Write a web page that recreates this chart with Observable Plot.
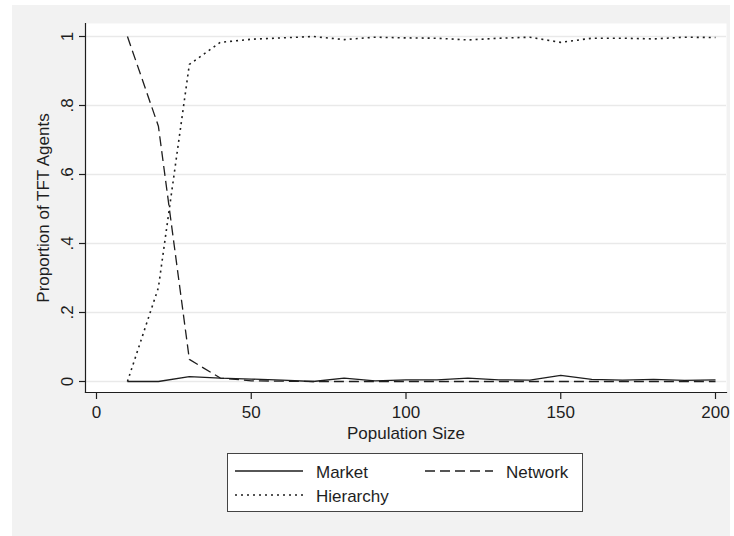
<!DOCTYPE html>
<html>
<head>
<meta charset="utf-8">
<script src="https://cdn.jsdelivr.net/npm/d3@7"></script>
<script src="https://cdn.jsdelivr.net/npm/@observablehq/plot@0.6"></script>
<style>
  html, body { margin: 0; padding: 0; background: #ffffff; }
  #page { position: relative; width: 734px; height: 536px; overflow: hidden;
          font-family: "Liberation Sans", Arial, Helvetica, sans-serif; }
  #bg { position: absolute; left: 12px; top: 5px; width: 718px; height: 531px; background: #f2f2f2; }
  #chart { position: absolute; left: 0; top: 0; }
  #legend { position: absolute; left: 227px; top: 453px; }
</style>
</head>
<body>
<div id="page">
  <div id="bg"></div>
  <div id="chart"></div>
  <div id="legend"></div>
</div>
<script>
// Population sizes simulated
const sizes = [10, 20, 30, 40, 50, 60, 70, 80, 90, 100, 110, 120, 130, 140, 150, 160, 170, 180, 190, 200];

// Proportion of tit-for-tat agents under each organisational form
const market    = [0, 0, 0.014, 0.010, 0.007, 0.004, 0.000, 0.010, 0.002, 0.005, 0.005, 0.010, 0.005, 0.004, 0.018, 0.006, 0.004, 0.006, 0.003, 0.005];
const network   = [1.0, 0.74, 0.064, 0.010, 0.002, 0.001, 0, 0, 0, 0, 0, 0, 0, 0, 0, 0, 0, 0, 0, 0];
const hierarchy = [0, 0.272, 0.919, 0.983, 0.992, 0.996, 1.0, 0.991, 0.998, 0.996, 0.995, 0.990, 0.995, 0.998, 0.983, 0.995, 0.995, 0.993, 0.998, 0.997];

const seriesNames = ["Market", "Network", "Hierarchy"];
const seriesValues = [market, network, hierarchy];
const seriesDash = [null, "10,5", "2,4"];
const seriesWidth = [1.3, 1.3, 1.6];

const xTicks = [0, 50, 100, 150, 200];
const yTicks = [0, 0.2, 0.4, 0.6, 0.8, 1];
const yTickLabels = ["0", ".2", ".4", ".6", ".8", "1"];

const ink = "#1e1e1e";
const font = "\"Liberation Sans\", Arial, Helvetica, sans-serif";

const rows = (vals) => sizes.map((s, i) => ({size: s, value: vals[i]}));

const lineMarks = seriesValues.map((vals, k) =>
  Plot.line(rows(vals), {
    x: "size", y: "value",
    stroke: ink, strokeWidth: seriesWidth[k],
    strokeDasharray: seriesDash[k] || undefined,
    strokeLinejoin: "miter", strokeLinecap: "butt"
  })
);

const chart = Plot.plot({
  width: 734,
  height: 450,
  marginLeft: 85,
  marginRight: 8,
  marginTop: 23,
  marginBottom: 58,
  style: { background: "transparent", fontFamily: font, fontSize: "17px", color: ink },
  x: { domain: [0, 200], range: [96, 715] },
  y: { domain: [0, 1], range: [381, 36] },
  marks: [
    Plot.frame({ fill: "white", stroke: null }),
    Plot.gridY(yTicks, { stroke: "#e9e9e9", strokeOpacity: 1, strokeWidth: 1.6 }),
    ...lineMarks,
    Plot.frame({ anchor: "left", stroke: ink, strokeWidth: 1.2 }),
    Plot.frame({ anchor: "bottom", stroke: ink, strokeWidth: 1.2 }),
    Plot.axisX({
      ticks: xTicks, tickSize: 7, tickPadding: 6, fontSize: 17,
      stroke: ink, strokeWidth: 1.2,
      label: "Population Size", labelAnchor: "center", labelOffset: 46, labelArrow: "none"
    }),
    Plot.axisY({
      ticks: yTicks, tickSize: 6, tickPadding: 7, tickRotate: -90, fontSize: 17,
      tickFormat: (d) => yTickLabels[yTicks.indexOf(d)],
      stroke: ink, strokeWidth: 1.2,
      label: "Proportion of TFT Agents", labelAnchor: "center", labelOffset: 49, labelArrow: "none"
    })
  ]
});
document.getElementById("chart").appendChild(chart);

// Key below the chart
const lg = d3.select("#legend").append("svg")
  .attr("width", 357).attr("height", 60)
  .style("font-family", font).style("font-size", "17px");
lg.append("rect").attr("x", 0.5).attr("y", 0.5).attr("width", 355).attr("height", 58)
  .attr("fill", "white").attr("stroke", "#444").attr("stroke-width", 1);
const slots = [
  { x: 8, y: 18 },
  { x: 198, y: 18 },
  { x: 8, y: 42 }
];
seriesNames.forEach((name, k) => {
  const s = slots[k];
  lg.append("line").attr("x1", s.x).attr("x2", s.x + 68).attr("y1", s.y).attr("y2", s.y)
    .attr("stroke", ink).attr("stroke-width", seriesWidth[k])
    .attr("stroke-dasharray", seriesDash[k]);
  lg.append("text").attr("x", s.x + 81).attr("y", s.y + 6.5).attr("fill", ink).text(name);
});
</script>
</body>
</html>
